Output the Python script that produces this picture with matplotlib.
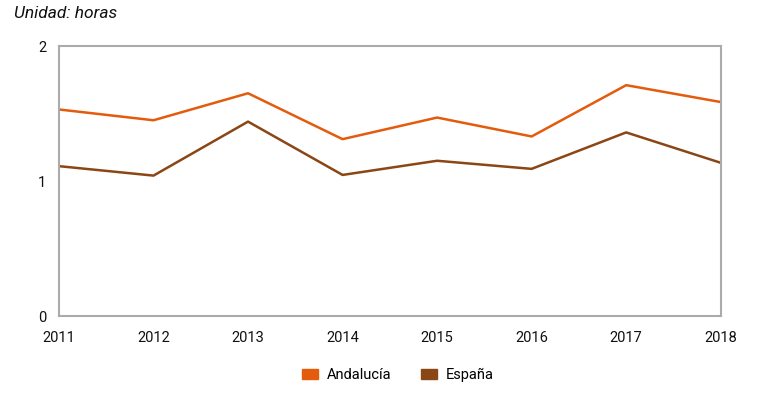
import matplotlib.pyplot as plt
from matplotlib.patches import Patch
from matplotlib import font_manager

names = {f.name for f in font_manager.fontManager.ttflist}
font = 'Liberation Sans Narrow' if 'Liberation Sans Narrow' in names else 'Roboto'
plt.rcParams['font.family'] = [font, 'DejaVu Sans']

years = [2011, 2012, 2013, 2014, 2015, 2016, 2017, 2018]
andalucia = [1.53, 1.45, 1.65, 1.31, 1.47, 1.33, 1.71, 1.585]
espana = [1.11, 1.04, 1.44, 1.045, 1.15, 1.09, 1.36, 1.135]

c_and = '#E35B0C'
c_esp = '#8B4615'
grey = '#ABABAB'

fig = plt.figure(figsize=(7.58, 3.95), dpi=100)
ax = fig.add_axes([0.0778, 0.2, 0.873, 0.6835])

ax.plot(years, andalucia, color=c_and, lw=1.8)
ax.plot(years, espana, color=c_esp, lw=1.8)

ax.set_xlim(2011, 2018)
ax.set_ylim(0, 2)
ax.set_xticks(years)
ax.set_yticks([0, 1, 2])
ax.tick_params(length=0, labelsize=10.5, colors='#111111')
ax.tick_params(axis='x', pad=11)
ax.tick_params(axis='y', pad=9)
for s in ax.spines.values():
    s.set_color(grey)
    s.set_linewidth(1.5)

fig.text(0.018, 0.965, 'Unidad: horas', fontsize=12.5, style='italic', color='#111111', va='center')

handles = [Patch(color=c_and, label='Andalucía'), Patch(color=c_esp, label='España')]
fig.legend(handles=handles, loc='center', bbox_to_anchor=(0.525, 0.05), ncol=2,
           frameon=False, fontsize=10.5, handlelength=1.1, handleheight=0.7,
           columnspacing=2.0, handletextpad=0.6)

fig.savefig('out.png', dpi=100)
